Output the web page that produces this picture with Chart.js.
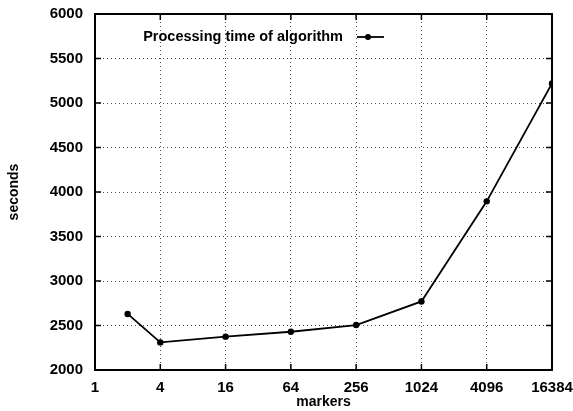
<!DOCTYPE html>
<html>
<head>
<meta charset="utf-8">
<script src="https://cdn.jsdelivr.net/npm/chart.js@4"></script>
<style>
  body { margin: 0; background: #fff; }
  canvas { display: block; }
</style>
</head>
<body>
<canvas id="myChart" width="573" height="411"></canvas>
<script>
// values
const markers = [2, 4, 16, 64, 256, 1024, 4096, 16384];
const seconds = [2630, 2310, 2375, 2430, 2505, 2770, 3895, 5220];
const xTicks = [1, 4, 16, 64, 256, 1024, 4096, 16384];
const yTicks = [2000, 2500, 3000, 3500, 4000, 4500, 5000, 5500, 6000];
const seriesName = 'Processing time of algorithm';

const FONT = "'Liberation Sans', Arial, sans-serif";

// gnuplot style frame, ticks pointing inward on all four sides, and the key
const framePlugin = {
    id: 'frame',
    afterDatasetsDraw(chart) {
        const c = chart.ctx;
        const a = chart.chartArea;
        const xs = chart.scales.x;
        const ys = chart.scales.y;
        c.save();
        c.strokeStyle = '#000';
        c.lineWidth = 1.5;
        xTicks.forEach(v => {
            const px = xs.getPixelForValue(v);
            c.beginPath();
            c.moveTo(px, a.bottom); c.lineTo(px, a.bottom - 6);
            c.moveTo(px, a.top); c.lineTo(px, a.top + 6);
            c.stroke();
        });
        yTicks.forEach(v => {
            const py = ys.getPixelForValue(v);
            c.beginPath();
            c.moveTo(a.left, py); c.lineTo(a.left + 6, py);
            c.moveTo(a.right, py); c.lineTo(a.right - 6, py);
            c.stroke();
        });
        c.lineWidth = 2;
        c.strokeRect(a.left, a.top, a.right - a.left, a.bottom - a.top);

        // key
        c.font = 'bold 14.5px ' + FONT;
        c.fillStyle = '#000';
        c.textAlign = 'right';
        c.textBaseline = 'middle';
        c.fillText(seriesName, 343, 37);
        c.lineWidth = 1.8;
        c.beginPath();
        c.moveTo(357, 37); c.lineTo(384, 37);
        c.stroke();
        c.beginPath();
        c.arc(368, 37, 3, 0, Math.PI * 2);
        c.fill();
        c.restore();
    }
};

const ctx = document.getElementById('myChart');

const gridStyle = {
    drawTicks: false,
    color: 'rgba(0,0,0,0.7)',
    lineWidth: 1
};

const dataChart = new Chart(ctx, {
    type: 'line',
    data: {
        datasets: [{
            label: seriesName,
            data: markers.map((m, i) => ({ x: m, y: seconds[i] })),
            borderColor: '#000',
            backgroundColor: '#000',
            borderWidth: 1.8,
            pointRadius: 3.2,
            pointBackgroundColor: '#000',
            pointBorderWidth: 0,
            tension: 0,
            fill: false
        }]
    },
    options: {
        responsive: false,
        animation: false,
        devicePixelRatio: 1,
        layout: {
            padding: { top: 14, right: 21, left: 0, bottom: 0 }
        },
        plugins: {
            legend: { display: false },
            tooltip: { enabled: false }
        },
        scales: {
            x: {
                type: 'logarithmic',
                min: 1,
                max: 16384,
                afterBuildTicks: scale => {
                    scale.ticks = xTicks.map(v => ({ value: v }));
                },
                afterFit: scale => {
                    scale.height = 41;
                    scale.paddingLeft = 0;
                    scale.paddingRight = 0;
                },
                border: { display: false, dash: [1, 3] },
                grid: gridStyle,
                ticks: {
                    autoSkip: false,
                    maxRotation: 0,
                    padding: 9,
                    color: '#000',
                    font: { family: FONT, size: 15, weight: 'bold' },
                    callback: v => String(v)
                },
                title: {
                    display: true,
                    text: 'markers',
                    color: '#000',
                    font: { family: FONT, size: 14, weight: 'bold' },
                    padding: { top: 0, bottom: 0 }
                }
            },
            y: {
                min: 2000,
                max: 6000,
                afterBuildTicks: scale => {
                    scale.ticks = yTicks.map(v => ({ value: v }));
                },
                afterFit: scale => {
                    scale.width = 95;
                    scale.paddingTop = 0;
                    scale.paddingBottom = 0;
                },
                border: { display: false, dash: [1, 3] },
                grid: gridStyle,
                ticks: {
                    padding: 12,
                    color: '#000',
                    font: { family: FONT, size: 15, weight: 'bold' },
                    callback: v => String(v)
                },
                title: {
                    display: true,
                    text: 'seconds',
                    color: '#000',
                    font: { family: FONT, size: 14, weight: 'bold' },
                    padding: { top: 6, bottom: 0 }
                }
            }
        }
    },
    plugins: [framePlugin]
});
</script>
</body>
</html>
